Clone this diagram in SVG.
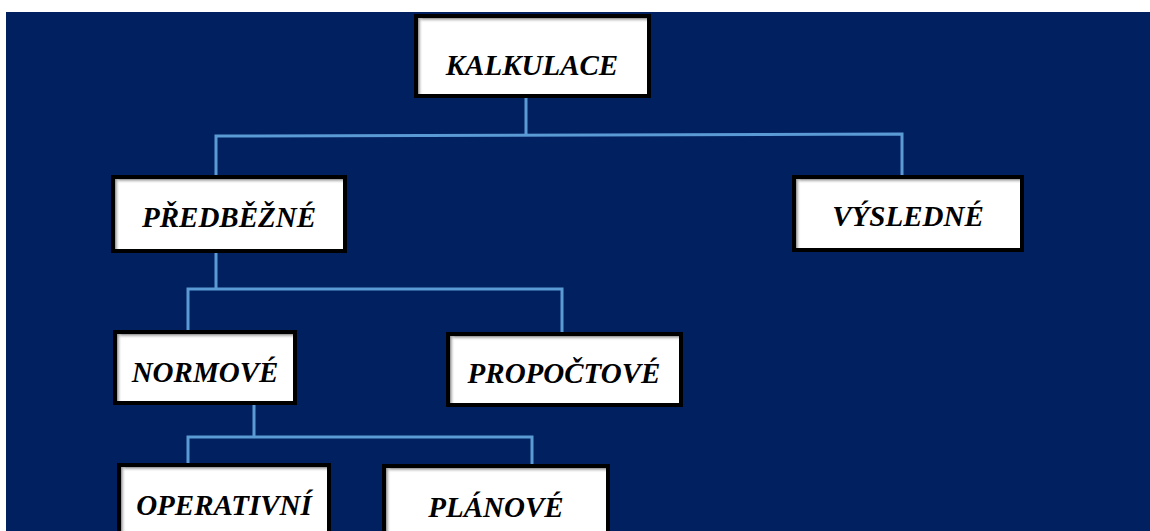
<svg xmlns="http://www.w3.org/2000/svg" width="1150" height="531" viewBox="0 0 1150 531">
<defs>
<linearGradient id="shT" x1="0" y1="0" x2="0" y2="1"><stop offset="0" stop-color="#8a8a8a"/><stop offset="1" stop-color="#ffffff" stop-opacity="0"/></linearGradient>
<linearGradient id="shL" x1="0" y1="0" x2="1" y2="0"><stop offset="0" stop-color="#8a8a8a"/><stop offset="1" stop-color="#ffffff" stop-opacity="0"/></linearGradient>
</defs>
<style>
.box{fill:#ffffff;stroke:#000000;stroke-width:4}
.lbl{font-family:"Liberation Serif","Times New Roman",serif;font-weight:bold;font-style:italic;font-size:29px;fill:#000000;text-anchor:middle}
.con{stroke:#5B9BD5;stroke-width:3;fill:none}
</style>
<rect x="0" y="0" width="1150" height="531" fill="#ffffff"/>
<rect x="6" y="12" width="1144" height="519" fill="#00205F"/>
<g id="connectors">
<path class="con" d="M526 98V135M216 178V136L902 134V178"/>
<path class="con" d="M216 253V289M188 333V289H562V333"/>
<path class="con" d="M254 405V437M188 465V437H532V467"/>
</g>
<g id="n-kalkulace">
<rect class="box" x="416" y="16" width="233" height="80"/>
<rect x="418" y="18" width="229" height="5" fill="url(#shT)"/>
<rect x="418" y="18" width="5" height="76" fill="url(#shL)"/>
<text class="lbl" x="532" y="75">KALKULACE</text>
</g>
<g id="n-predbezne">
<rect class="box" x="113" y="177" width="232" height="74"/>
<rect x="115" y="179" width="228" height="5" fill="url(#shT)"/>
<rect x="115" y="179" width="5" height="70" fill="url(#shL)"/>
<text class="lbl" x="229" y="227">PŘEDBĚŽNÉ</text>
</g>
<g id="n-vysledne">
<rect class="box" x="794" y="177" width="228" height="73"/>
<rect x="796" y="179" width="224" height="5" fill="url(#shT)"/>
<rect x="796" y="179" width="5" height="69" fill="url(#shL)"/>
<text class="lbl" x="908" y="226">VÝSLEDNÉ</text>
</g>
<g id="n-normove">
<rect class="box" x="115" y="332" width="180" height="71"/>
<rect x="117" y="334" width="176" height="5" fill="url(#shT)"/>
<rect x="117" y="334" width="5" height="67" fill="url(#shL)"/>
<text class="lbl" x="205" y="382">NORMOVÉ</text>
</g>
<g id="n-propoctove">
<rect class="box" x="448" y="334" width="233" height="71"/>
<rect x="450" y="336" width="229" height="5" fill="url(#shT)"/>
<rect x="450" y="336" width="5" height="67" fill="url(#shL)"/>
<text class="lbl" x="564" y="383">PROPOČTOVÉ</text>
</g>
<g id="n-operativni">
<rect class="box" x="119" y="465" width="210" height="80"/>
<rect x="121" y="467" width="206" height="5" fill="url(#shT)"/>
<rect x="121" y="467" width="5" height="70" fill="url(#shL)"/>
<text class="lbl" x="224" y="515">OPERATIVNÍ</text>
</g>
<g id="n-planove">
<rect class="box" x="384" y="466" width="224" height="80"/>
<rect x="386" y="468" width="220" height="5" fill="url(#shT)"/>
<rect x="386" y="468" width="5" height="70" fill="url(#shL)"/>
<text class="lbl" x="496" y="517">PLÁNOVÉ</text>
</g>
</svg>
